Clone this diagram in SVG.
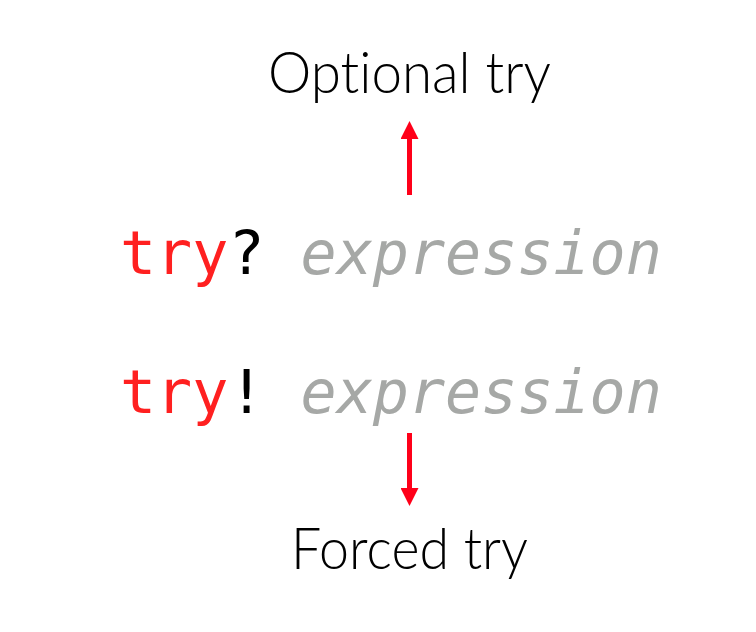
<svg xmlns="http://www.w3.org/2000/svg" width="756" height="632" viewBox="0 0 756 632">
<style>
.lbl{font-family:"Lato","Open Sans",sans-serif;font-weight:300;font-size:58px;fill:#000;text-anchor:middle;font-variant-ligatures:none;font-feature-settings:"liga" 0}
.code{font-family:"DejaVu Sans Mono","Liberation Mono",monospace;font-size:60px}
.kw{fill:#ff2020}
.op{fill:#000}
.ex{fill:#a6a8a6;font-style:italic}
.conn{stroke:#ff0019;stroke-width:5;fill:none}
</style>
<defs>
<marker id="ah" viewBox="0 0 10 10" refX="0" refY="5" markerWidth="3.6" markerHeight="3.6" orient="auto" markerUnits="strokeWidth">
<path d="M0,0 L10,5 L0,10 Z" fill="#ff0019"/>
</marker>
</defs>
<rect width="756" height="632" fill="#fff"/>
<g id="optional-label"><text class="lbl" x="409.5" y="93" textLength="283" lengthAdjust="spacingAndGlyphs">Optional try</text></g>
<g id="try-optional"><text class="code" x="120" y="274"><tspan class="kw">try</tspan><tspan class="op">?</tspan><tspan class="ex" xml:space="preserve"> expression</tspan></text></g>
<g id="try-forced"><text class="code" x="120" y="413"><tspan class="kw">try</tspan><tspan class="op">!</tspan><tspan class="ex" xml:space="preserve"> expression</tspan></text></g>
<g id="forced-label"><text class="lbl" x="409.5" y="569" textLength="237" lengthAdjust="spacingAndGlyphs">Forced try</text></g>
<g id="connectors">
<line class="conn" x1="409.5" y1="195" x2="409.5" y2="139" marker-end="url(#ah)"/>
<line class="conn" x1="409.5" y1="433" x2="409.5" y2="488" marker-end="url(#ah)"/>
</g>
</svg>
